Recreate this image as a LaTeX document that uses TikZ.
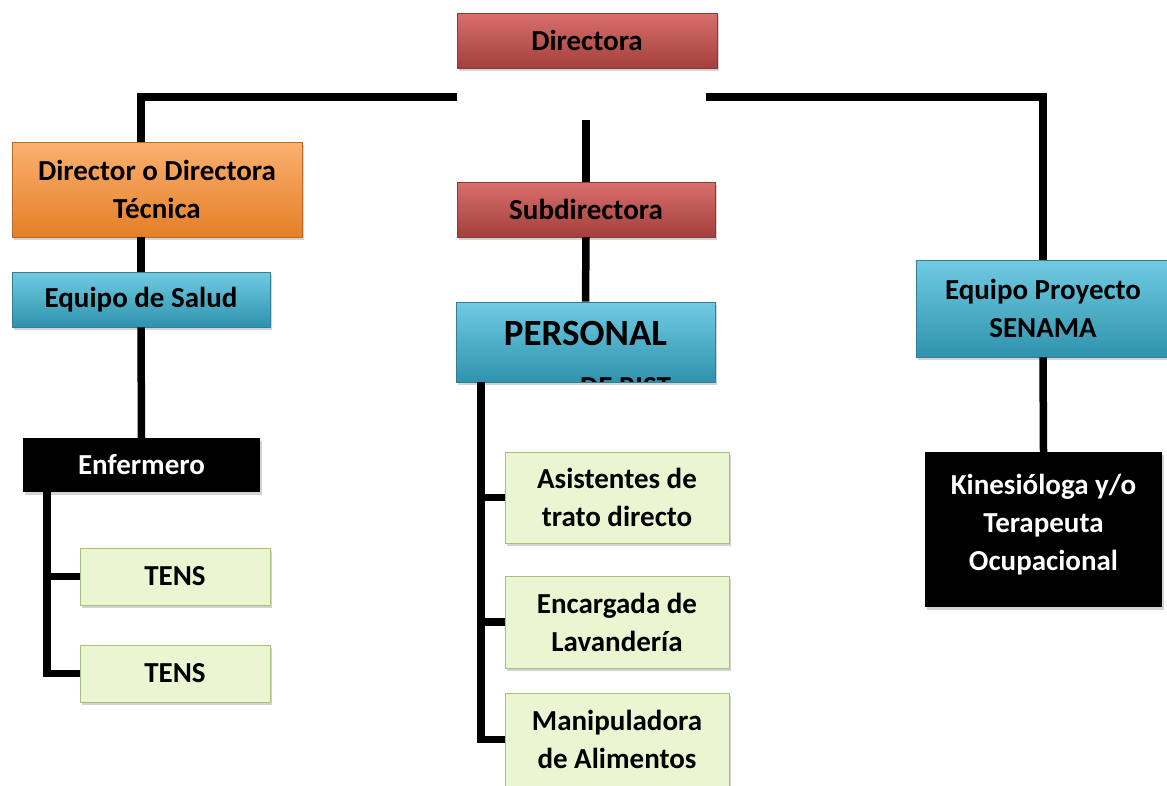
\documentclass[tikz,border=0pt]{standalone}
\usepackage{fontspec}
\setmainfont{Carlito}
\usetikzlibrary{shadows}
\definecolor{redM}{HTML}{C0504D}
\definecolor{redT}{HTML}{D8706C}
\definecolor{redB}{HTML}{A33F3C}
\definecolor{redD}{HTML}{8C3836}
\definecolor{orM}{HTML}{F79646}
\definecolor{orT}{HTML}{FBB070}
\definecolor{orB}{HTML}{E47F26}
\definecolor{orD}{HTML}{B96A25}
\definecolor{blM}{HTML}{4BACC6}
\definecolor{blT}{HTML}{70CBE2}
\definecolor{blB}{HTML}{2F93AE}
\definecolor{blD}{HTML}{357D91}
\definecolor{grF}{HTML}{EBF5D2}
\definecolor{grD}{HTML}{A8BF7C}
\tikzset{
  box/.style={inner sep=0pt, align=center,
    font=\bfseries\fontsize{29}{38}\selectfont,
    drop shadow={opacity=0.35, shadow xshift=2pt, shadow yshift=-3pt}},
  redbox/.style={box, draw=redD, line width=0.6pt, top color=redT, middle color=redM, bottom color=redB},
  orbox/.style={box, draw=orD, line width=0.6pt, top color=orT, middle color=orM, bottom color=orB},
  blbox/.style={box, draw=blD, line width=0.6pt, top color=blT, middle color=blM, bottom color=blB},
  grbox/.style={box, draw=grD, line width=1pt, fill=grF},
  bkbox/.style={box, fill=black, text=white},
  conn/.style={line width=7.5pt, black, line join=miter}
}
\begin{document}
\begin{tikzpicture}[x=1pt, y=-1pt]
\useasboundingbox (0,0) rectangle (1167,785);
% top level
\node[redbox, minimum width=260pt, minimum height=55pt] (dir) at (587,40.5) {Directora};
% left branch
\node[orbox, minimum width=290pt, minimum height=95pt] (dtec) at (157,189.5) {Director o Directora\\Técnica};
\node[blbox, minimum width=258pt, minimum height=55pt] (es) at (141,299.5) {Equipo de Salud};
\node[bkbox, minimum width=237pt, minimum height=54pt] (enf) at (141.5,465) {Enfermero};
\node[grbox, minimum width=190pt, minimum height=57pt] (t1) at (175,576.5) {TENS};
\node[grbox, minimum width=190pt, minimum height=57pt] (t2) at (175,673.5) {TENS};
% middle branch
\node[redbox, minimum width=258pt, minimum height=55pt] (sub) at (586,209.5) {Subdirectora};
\node[blbox, minimum width=259pt, minimum height=80pt,
  path picture={
    \node[anchor=base, inner sep=0pt, font=\bfseries\fontsize{37}{37}\selectfont] (persa) at ([yshift=-43pt]path picture bounding box.north) {PERSONAL};
    \node[anchor=base, inner sep=0pt, font=\bfseries\fontsize{29}{29}\selectfont] (persb) at ([xshift=40pt,yshift=-94pt]path picture bounding box.north) {DE RIST};
  }] (pers) at (585.5,342) {};
\node[grbox, minimum width=224pt, minimum height=91pt] (a1) at (617,497.5) {Asistentes de\\trato directo};
\node[grbox, minimum width=224pt, minimum height=92pt] (a2) at (617,622) {Encargada de\\Lavandería};
\node[grbox, minimum width=224pt, minimum height=93pt] (a3) at (617,739.5) {Manipuladora\\de Alimentos};
% right branch
\node[blbox, minimum width=254pt, minimum height=97pt] (eps) at (1043,308.5) {Equipo Proyecto\\SENAMA};
\node[bkbox, minimum width=237pt, minimum height=155pt] (kin) at (1043.5,529.5) {Kinesióloga y/o\\Terapeuta\\Ocupacional\rule[-14pt]{0pt}{0pt}};
% connector anchors
\coordinate (hl) at (457,97);
\coordinate (hr) at (706,97);
\coordinate (mt) at (586,120);
\coordinate (ls) at (47,0);
\coordinate (ms) at (481,0);
% connectors
\draw[conn] (hl) -| (es.north |- dtec.north);
\draw[conn] (hr) -| (eps.north);
\draw[conn] (mt) -- (sub.north);
\draw[conn] (dtec.south -| es.north) -- (es.north);
\draw[conn] (es.south) -- (enf.north);
\draw[conn] (enf.south -| ls) |- (t2.west);
\draw[conn] (t1.west -| ls) -- (t1.west);
\draw[conn] (sub.south) -- (pers.north);
\draw[conn] (pers.south -| ms) |- (a3.west);
\draw[conn] (a1.west -| ms) -- (a1.west);
\draw[conn] (a2.west -| ms) -- (a2.west);
\draw[conn] (eps.south) -- (kin.north);
\end{tikzpicture}
\end{document}
